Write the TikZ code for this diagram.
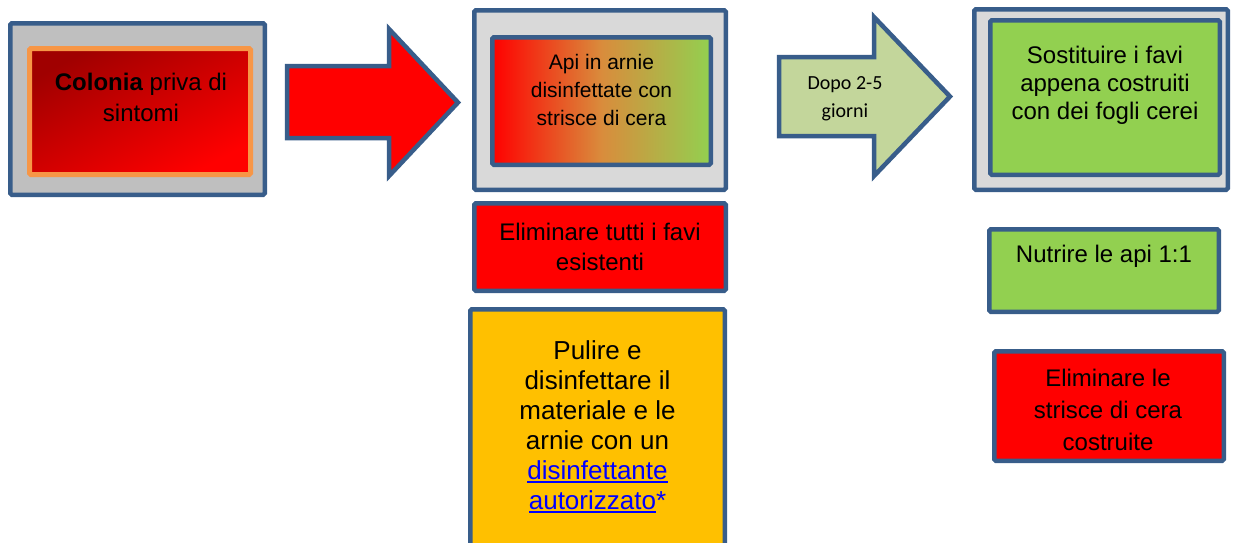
\documentclass[tikz,border=0pt]{standalone}
\usepackage{fontspec}
\setmainfont{Liberation Sans}
\newfontfamily\calibrifont{Carlito}
\usetikzlibrary{fit}
\definecolor{bordo}{HTML}{385D8A}
\definecolor{grayA}{HTML}{BFBFBF}
\definecolor{grayB}{HTML}{D9D9D9}
\definecolor{orangeB}{HTML}{F79646}
\definecolor{darkred}{HTML}{A00000}
\definecolor{greenA}{HTML}{92D050}
\definecolor{greenB}{HTML}{C3D69B}
\definecolor{gold}{HTML}{FFC000}
\definecolor{midmix}{HTML}{D98C3C}
\definecolor{linkblue}{HTML}{0000FF}
\newcommand\lnkul[1]{\setbox0\hbox{#1}\rlap{\rule[-3.6pt]{\wd0}{1.8pt}}\box0}
\tikzset{
  frame/.style={draw=bordo, line width=4.5pt, rounded corners=1.5pt, inner sep=-2.25pt, outer sep=0pt},
  oframe/.style={draw=orangeB, line width=5pt, rounded corners=1.5pt, inner sep=-2.5pt, outer sep=0pt},
  blockarrow/.style={draw=bordo, line width=4.5pt, line join=miter},
  txt/.style={align=center, inner sep=0pt, text=black},
  f24/.style={font=\fontsize{24}{31}\selectfont},
}
\begin{document}
\begin{tikzpicture}[x=1pt,y=-1pt]
\useasboundingbox (0,0) rectangle (1233,542);
\clip (0,0) rectangle (1233,542);
\fill[white] (0,0) rectangle (1233,542);

% Box 1
\node[frame, fill=grayA, fit={(8,21) (267,197)}] (b1) {};
\node[oframe, fit={(27,46) (253,177)}, top color=darkred, bottom color=red, shading angle=28] (b1in) {};
\node[txt, f24] (t1) at (141,97.5) {\textbf{Colonia} priva di\\sintomi};

% Red arrow
\draw[blockarrow, fill=red] (287,66) coordinate (ra1) -- (389,66) -- (389,29) -- (458,102.5) coordinate (ratip) -- (389,176) -- (389,138) -- (287,138) -- cycle;

% Box 2
\node[frame, fill=grayB, fit={(472,8) (728,192)}] (b2) {};
\node[frame, fit={(490,35) (713,167)}, left color=red, right color=greenA, middle color=midmix] (b2in) {};
\node[txt, font=\fontsize{21}{28}\selectfont] (t2) at (601.5,90) {Api in arnie\\disinfettate con\\strisce di cera};

\node[frame, fill=red, fit={(472,201) (728,293)}] (b3) {};
\node[txt, font=\fontsize{24}{30}\selectfont] (t3) at (600,247) {Eliminare tutti i favi\\esistenti};

\node[frame, fill=gold, fit={(468,307) (727,560)}] (b5) {};
\node[txt, font=\fontsize{26}{30}\selectfont] (t5) at (597.5,427) {Pulire e\\disinfettare il\\materiale e le\\arnie con un\\{\color{linkblue}\lnkul{disinfettante}}\\{\color{linkblue}\lnkul{autorizzato}*}};

% Green arrow
\draw[blockarrow, fill=greenB] (779,57) coordinate (ga1) -- (874,57) -- (874,17) -- (950,96.5) coordinate (gatip) -- (874,176) -- (874,136) -- (779,136) -- cycle;
\node[txt, font=\calibrifont\fontsize{20}{28}\selectfont] (tg) at (845,99) {Dopo 2-5\\giorni};

% Box 4
\node[frame, fill=grayB, fit={(972,7) (1230,192)}] (b4) {};
\node[frame, fill=greenA, fit={(988,18) (1222,177)}] (b4in) {};
\node[txt, font=\fontsize{24}{28}\selectfont] (t4) at (1105,85) {Sostituire i favi\\appena costruiti\\con dei fogli cerei};

\node[frame, fill=greenA, fit={(987,227) (1221,314)}] (b6) {};
\node[txt, f24] (t6) at (1104,256) {Nutrire le api 1:1};

\node[frame, fill=red, fit={(992,349) (1226,463)}] (b7) {};
\node[txt, font=\fontsize{24}{32}\selectfont] (t7) at (1108,410) {Eliminare le\\strisce di cera\\costruite};
\end{tikzpicture}
\end{document}
